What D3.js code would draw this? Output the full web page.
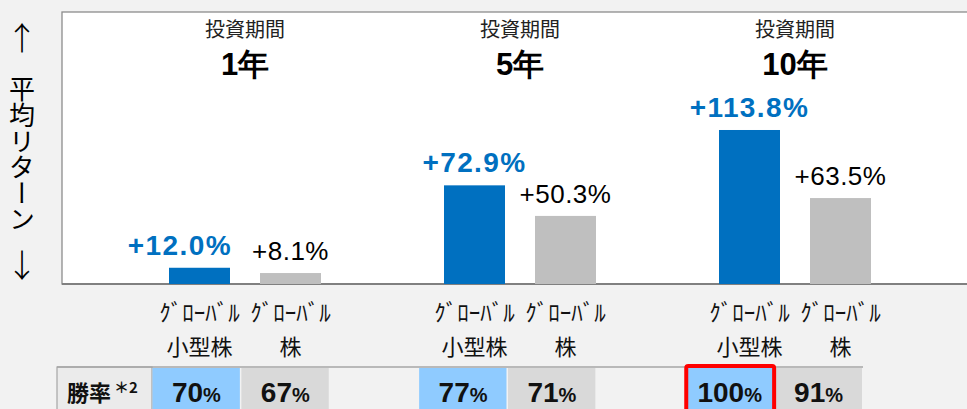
<!DOCTYPE html>
<html><head><meta charset="utf-8">
<script src="https://cdn.jsdelivr.net/npm/d3@7"></script>
<style>
html,body{margin:0;padding:0;background:#f2f2f2;}
svg{display:block;}
</style></head>
<body>
<svg id="c" width="967" height="409"></svg>
<script>
const periods = ["1年", "5年", "10年"];
const periodTitle = "投資期間";
const series = ["ｸﾞﾛｰﾊﾞﾙ小型株", "ｸﾞﾛｰﾊﾞﾙ株"];
const seriesLine1 = ["ｸﾞﾛｰﾊﾞﾙ", "ｸﾞﾛｰﾊﾞﾙ"];
const seriesLine2 = ["小型株", "株"];
const smallCapReturn = [12.0, 72.9, 113.8];
const globalReturn = [8.1, 50.3, 63.5];
const smallCapWin = [70, 77, 100];
const globalWin = [67, 71, 91];
const axisLabel = "平均リターン";
const winLabel = "勝率";

const returns = [smallCapReturn, globalReturn];
const wins = [smallCapWin, globalWin];
const barColors = ["#0070c0", "#bfbfbf"];
const cellColors = ["#8fcbff", "#d9d9d9"];
const labelColors = ["#0070c0", "#000"];

const svg = d3.select("#c");
const jp = "'Noto Sans CJK JP','Noto Sans',sans-serif";
const num = "'Liberation Sans',Arial,sans-serif";

const plotL = 62, plotT = 12, plotB = 284;
const x = d3.scaleBand().domain(periods).range([107.5, 932.5]);
const xs = d3.scalePoint().domain(series).range([92, 183]);
const y = d3.scaleLinear().domain([0, 120]).range([plotB, plotB - 162.4]);
const barW = 61;

// table column grid: [blue, gray, gap] per period
const tableCols = d3.range(periods.length * 3 - 1);
const xc = d3.scaleBand().domain(tableCols).range([152, 863]);

// plot area
svg.append("rect").attr("x", plotL).attr("y", plotT).attr("width", 967 - plotL + 10).attr("height", plotB - plotT)
  .attr("fill", "#fff").attr("stroke", "#8c8c8c").attr("stroke-width", 1.3);
svg.append("line").attr("x1", plotL).attr("x2", 967).attr("y1", plotB).attr("y2", plotB)
  .attr("stroke", "#808080").attr("stroke-width", 2);

// y axis label
svg.append("text").attr("x", 22).attr("y", 50).attr("text-anchor", "middle")
  .attr("font-family", jp).attr("font-size", 32).attr("font-weight", 300).text("↑");
svg.append("text").attr("x", 22).attr("y", 76)
  .attr("font-family", jp).attr("font-size", 26)
  .style("writing-mode", "vertical-rl").style("text-orientation", "upright")
  .text(axisLabel);
svg.append("text").attr("x", 22).attr("y", 277).attr("text-anchor", "middle")
  .attr("font-family", jp).attr("font-size", 32).attr("font-weight", 300).text("↓");

// groups
const g = svg.selectAll("g.period").data(periods).join("g").attr("class", "period")
  .attr("transform", d => `translate(${x(d)},0)`);

g.append("text").attr("x", x.bandwidth() / 2).attr("y", 37).attr("text-anchor", "middle")
  .attr("font-family", jp).attr("font-size", 20).attr("fill", "#222").text(periodTitle);
g.append("text").attr("x", x.bandwidth() / 2).attr("y", 75).attr("text-anchor", "middle")
  .attr("font-family", num).attr("font-size", 31).attr("font-weight", "bold").text(d => d);

const labelSel = [];
series.forEach((s, si) => {
  g.append("rect")
    .attr("x", xs(s) - barW / 2)
    .attr("y", (d, i) => y(returns[si][i]))
    .attr("width", barW)
    .attr("height", (d, i) => plotB - y(returns[si][i]))
    .attr("fill", barColors[si]);
  labelSel.push(g.append("text")
    .attr("x", xs(s)).attr("y", (d, i) => y(returns[si][i]) - 13)
    .attr("text-anchor", "middle").attr("font-family", num)
    .attr("font-size", si === 0 ? 28 : 26).attr("font-weight", si === 0 ? "bold" : "normal")
    .attr("letter-spacing", si === 0 ? 1.4 : 0.5)
    .attr("fill", labelColors[si])
    .text((d, i) => "+" + returns[si][i].toFixed(1) + "%"));
  g.append("text").attr("x", xs(s)).attr("y", 321).attr("text-anchor", "middle")
    .attr("font-family", jp).attr("font-size", 23).attr("fill", "#111").text(seriesLine1[si]);
  g.append("text").attr("x", xs(s)).attr("y", 355).attr("text-anchor", "middle")
    .attr("font-family", jp).attr("font-size", 22).attr("fill", "#111").text(seriesLine2[si]);
});

// avoid overlap of neighbouring value labels: shift the blue label left
labelSel[0].each(function (d, i) {
  const a = this.getBBox();
  const b = labelSel[1].nodes()[i].getBBox();
  const vOverlap = a.y < b.y + b.height && b.y < a.y + a.height;
  const gap = 20;
  if (vOverlap && a.x + a.width + gap > b.x) {
    const shift = a.x + a.width + gap - b.x;
    d3.select(this).attr("x", +d3.select(this).attr("x") - shift);
  }
});

// table
const tT = 367, tB = 409;
svg.append("rect").attr("x", 57).attr("y", tT).attr("width", 95).attr("height", tB - tT + 5)
  .attr("fill", "#ebebeb").attr("stroke", "#a6a6a6").attr("stroke-width", 1.2);
svg.append("line").attr("x1", 57).attr("x2", 863).attr("y1", tT).attr("y2", tT)
  .attr("stroke", "#a6a6a6").attr("stroke-width", 1.5);
const lt = svg.append("text").attr("x", 67).attr("y", 401).attr("font-family", jp)
  .attr("font-weight", "bold").attr("font-size", 22).attr("fill", "#111");
lt.append("tspan").text(winLabel);
lt.append("tspan").attr("font-size", 15).attr("dx", 3).attr("dy", -8).text("＊2");

const cells = [];
periods.forEach((p, pi) => series.forEach((s, si) => {
  cells.push({ col: pi * 3 + si, si, v: wins[si][pi] });
}));
const cg = svg.selectAll("g.cell").data(cells).join("g").attr("class", "cell")
  .attr("transform", d => `translate(${xc(d.col)},0)`);
cg.append("rect").attr("x", 0.5).attr("y", tT + 1)
  .attr("width", xc.bandwidth() - 1.5).attr("height", tB - tT)
  .attr("fill", d => cellColors[d.si]);
const ct = cg.append("text").attr("x", xc.bandwidth() / 2).attr("y", 402).attr("text-anchor", "middle")
  .attr("font-family", num).attr("font-weight", "bold").attr("fill", "#111");
ct.append("tspan").attr("font-size", 28).text(d => d.v);
ct.append("tspan").attr("font-size", 20).text("%");

// highlight best win rate
const bestCol = (periods.length - 1) * 3;
svg.append("rect")
  .attr("x", xc(bestCol) + 1)
  .attr("y", tT - 1).attr("width", xc.bandwidth() - 1).attr("height", tB - tT + 8)
  .attr("rx", 2).attr("fill", "none").attr("stroke", "#ff0000").attr("stroke-width", 4);
</script>
</body></html>
